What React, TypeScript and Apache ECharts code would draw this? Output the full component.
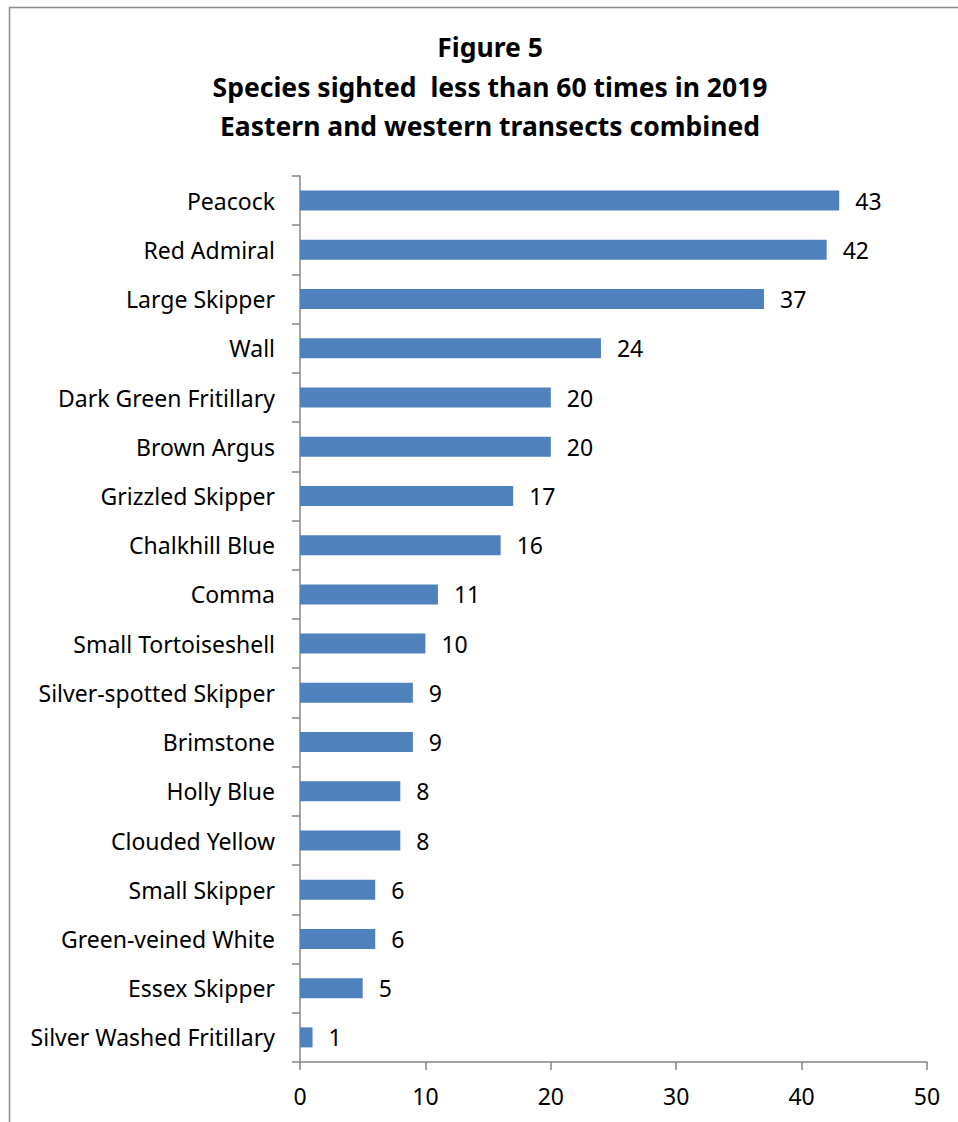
import React, { useEffect, useRef } from "react";
import * as echarts from "echarts";

const categories = [
  "Peacock",
  "Red Admiral",
  "Large Skipper",
  "Wall",
  "Dark Green Fritillary",
  "Brown Argus",
  "Grizzled Skipper",
  "Chalkhill Blue",
  "Comma",
  "Small Tortoiseshell",
  "Silver-spotted Skipper",
  "Brimstone",
  "Holly Blue",
  "Clouded Yellow",
  "Small Skipper",
  "Green-veined White",
  "Essex Skipper",
  "Silver Washed Fritillary",
];
const values = [43, 42, 37, 24, 20, 20, 17, 16, 11, 10, 9, 9, 8, 8, 6, 6, 5, 1];
const titleLines = [
  "Figure 5",
  "Species sighted  less than 60 times in 2019",
  "Eastern and western transects combined",
];

const FONT = "Noto Sans";

export default function App() {
  const ref = useRef<HTMLDivElement>(null);
  useEffect(() => {
    document.body.style.margin = "0";
    const chart = echarts.init(ref.current!, null, { renderer: "svg" });
    chart.setOption({
      animation: false,
      backgroundColor: "#ffffff",
      textStyle: { fontFamily: FONT },
      graphic: [
        {
          type: "rect",
          shape: { x: 9.5, y: 7.5, width: 1000, height: 1200 },
          style: { fill: "none", stroke: "#8c8c8c", lineWidth: 1.5 },
          silent: true,
        },
        ...titleLines.map((t, i) => ({
          type: "text",
          x: 490,
          y: 47 + i * 39.5,
          style: {
            text: t,
            fontFamily: FONT,
            fontSize: 26.5,
            fontWeight: "bold",
            fill: "#000",
            align: "center",
            verticalAlign: "middle",
          },
        })),
      ],
      grid: { left: 300, right: 31, top: 176, bottom: 60, containLabel: false },
      xAxis: {
        type: "value",
        min: 0,
        max: 50,
        interval: 10,
        splitLine: { show: false },
        axisLine: { show: true, lineStyle: { color: "#868686", width: 1.5 } },
        axisTick: { show: true, length: 8, lineStyle: { color: "#868686", width: 1.5 } },
        axisLabel: { color: "#000", fontSize: 23, fontFamily: FONT, margin: 22 },
      },
      yAxis: {
        type: "category",
        data: categories,
        inverse: true,
        axisLine: { show: true, lineStyle: { color: "#868686", width: 1.5 } },
        axisTick: { show: true, length: 8, lineStyle: { color: "#868686", width: 1.5 } },
        axisLabel: { color: "#000", fontSize: 23, fontFamily: FONT, margin: 25 },
      },
      series: [
        {
          type: "bar",
          data: values,
          barWidth: 20,
          itemStyle: { color: "#4F81BD" },
          label: {
            show: true,
            position: "right",
            distance: 16,
            color: "#000",
            fontSize: 23,
            fontFamily: FONT,
          },
        },
      ],
    });
    return () => chart.dispose();
  }, []);
  return <div ref={ref} style={{ width: 958, height: 1122 }} />;
}
